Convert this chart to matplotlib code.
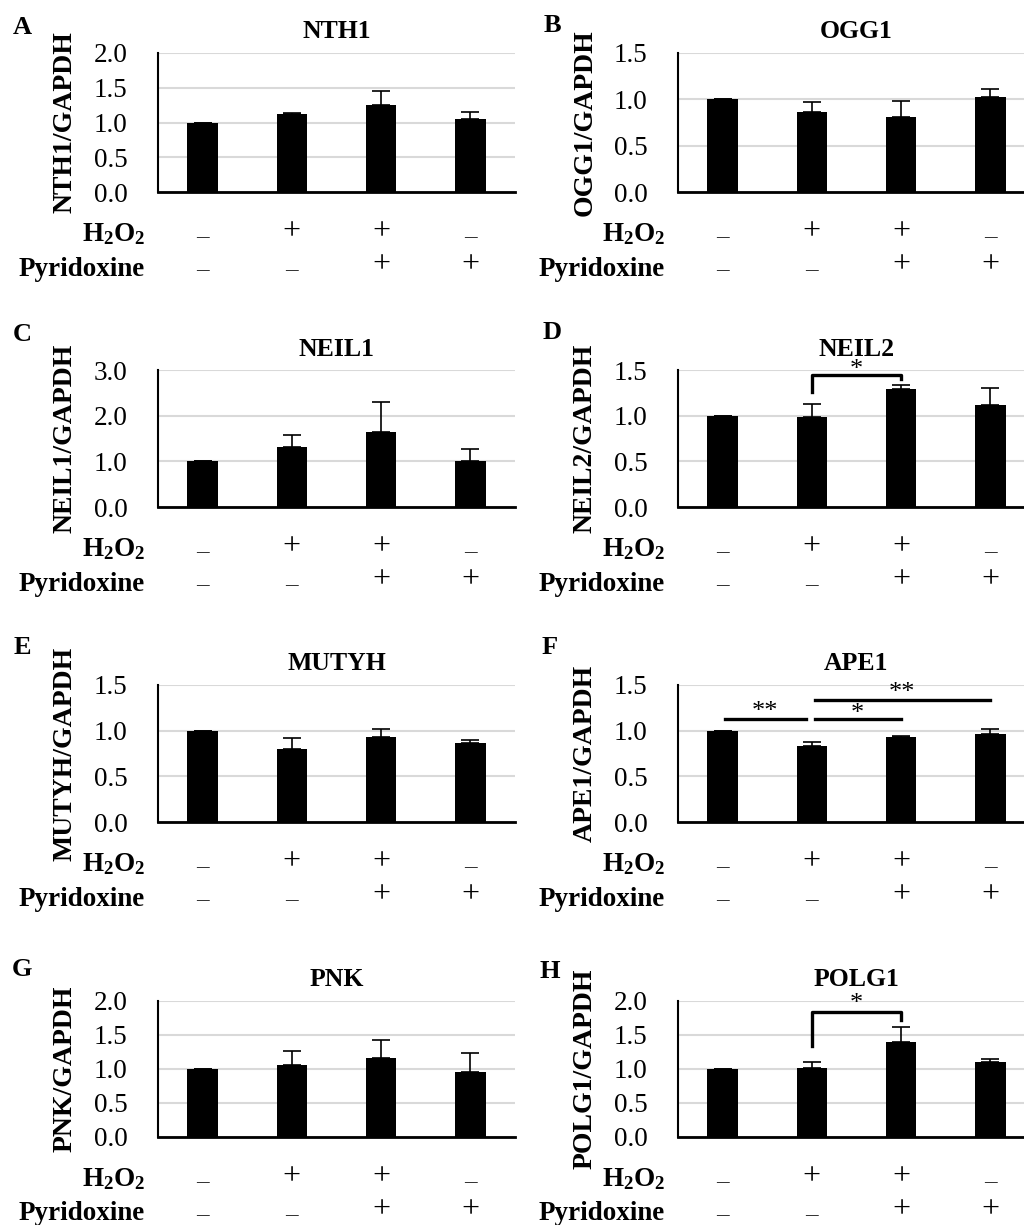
import matplotlib
matplotlib.use('Agg')
import matplotlib.pyplot as plt

plt.rcParams['font.family'] = ['Liberation Serif', 'DejaVu Serif']
plt.rcParams['mathtext.fontset'] = 'custom'
plt.rcParams['mathtext.rm'] = 'Liberation Serif'
plt.rcParams['mathtext.bf'] = 'Liberation Serif:bold'

# conditions (4 bars per panel)
h2o2 = ['\u2013', '+', '+', '\u2013']
pyridoxine = ['\u2013', '\u2013', '+', '+']

genes = ['NTH1', 'OGG1', 'NEIL1', 'NEIL2', 'MUTYH', 'APE1', 'PNK', 'POLG1']
letters = ['A', 'B', 'C', 'D', 'E', 'F', 'G', 'H']

# relative expression (gene/GAPDH) and upper error
nth1 = [1.00, 1.12, 1.25, 1.05]
nth1_err = [0.0, 0.02, 0.20, 0.10]
ogg1 = [1.00, 0.86, 0.81, 1.03]
ogg1_err = [0.0, 0.11, 0.17, 0.08]
neil1 = [1.00, 1.32, 1.65, 1.00]
neil1_err = [0.0, 0.25, 0.65, 0.27]
neil2 = [1.00, 0.985, 1.29, 1.12]
neil2_err = [0.0, 0.14, 0.05, 0.18]
mutyh = [1.00, 0.80, 0.93, 0.86]
mutyh_err = [0.0, 0.12, 0.09, 0.04]
ape1 = [1.00, 0.83, 0.93, 0.96]
ape1_err = [0.0, 0.05, 0.015, 0.06]
pnk = [1.00, 1.06, 1.16, 0.96]
pnk_err = [0.0, 0.20, 0.26, 0.28]
polg1 = [1.00, 1.01, 1.39, 1.11]
polg1_err = [0.0, 0.09, 0.23, 0.04]

ymax = [2.0, 1.5, 3.0, 1.5, 1.5, 1.5, 2.0, 2.0]
ystep = [0.5, 0.5, 1.0, 0.5, 0.5, 0.5, 0.5, 0.5]

# significance: (bar i, bar j, line y, left leg y, right leg y, star y, label)
sig_neil2 = [(1, 2, 1.45, 1.26, 1.40, 1.50, '*')]
sig_polg1 = [(1, 2, 1.84, 1.34, 1.72, 1.96, '*')]
# plain lines: (bar i, bar j, line y, star y, label)
sig_ape1 = [(0, 1, 1.125, 1.20, '**'),
            (1, 2, 1.125, 1.18, '*'),
            (1, 3, 1.336, 1.41, '**')]

values = [nth1, ogg1, neil1, neil2, mutyh, ape1, pnk, polg1]
errors = [nth1_err, ogg1_err, neil1_err, neil2_err,
          mutyh_err, ape1_err, pnk_err, polg1_err]

W, H = 1024, 1225
fig = plt.figure(figsize=(W / 100, H / 100), dpi=100)

col_left = [158, 678]
row_top = [53, 370, 685, 1001]
row_bot = [192, 507, 822, 1137]
letter_pos = [(22, 27), (552, 25), (22, 335), (552, 333),
              (22, 648), (550, 648), (22, 970), (550, 972)]

x = list(range(4))
for k, gene in enumerate(genes):
    r, c = divmod(k, 2)
    ax = fig.add_axes([col_left[c] / W, 1 - row_bot[r] / H,
                       357 / W, (row_bot[r] - row_top[r]) / H])
    ax.set_axisbelow(True)
    ax.bar(x, values[k], width=0.34, color='black', zorder=2)
    ax.errorbar(x, values[k], yerr=[[0] * 4, errors[k]], fmt='none',
                ecolor='black', elinewidth=1.2, capsize=6.5, capthick=1.2,
                zorder=3)
    ax.set_xlim(-0.5, 3.5)
    ax.set_ylim(0, ymax[k])
    n = int(round(ymax[k] / ystep[k]))
    ticks = [i * ystep[k] for i in range(n + 1)]
    ax.set_yticks(ticks)
    ax.set_yticklabels(['%.1f' % t for t in ticks])
    ax.set_xticks([])
    ax.tick_params(axis='y', length=0, pad=22, labelsize=19.5)
    ax.yaxis.grid(True, color='#d9d9d9', lw=1.5)
    for s in ['top', 'right']:
        ax.spines[s].set_visible(False)
    ax.spines['left'].set_linewidth(1.5)
    ax.spines['bottom'].set_linewidth(2)

    ax.set_ylabel(gene + '/GAPDH', fontsize=20, fontweight='bold')
    ax.yaxis.label.set_va('center')
    ax.yaxis.set_label_coords(-0.26, 0.5)

    ax.annotate(gene, xy=(0.5, 1), xycoords='axes fraction',
                xytext=(0, 21), textcoords='offset pixels',
                ha='center', va='center', fontsize=18.5, fontweight='bold')

    # treatment rows
    ax.annotate(r'$\mathbf{H_2O_2}$', xy=(0, 0), xycoords='axes fraction',
                xytext=(-13, -42), textcoords='offset pixels',
                ha='right', va='center', fontsize=19.5)
    ax.annotate('Pyridoxine', xy=(0, 0), xycoords='axes fraction',
                xytext=(-13, -77), textcoords='offset pixels',
                ha='right', va='center', fontsize=19.5, fontweight='bold')
    for i in x:
        for lab, dy in ((h2o2[i], -40), (pyridoxine[i], -73)):
            if lab == '+':
                ax.annotate(lab, xy=(i, 0), xycoords=('data', 'axes fraction'),
                            xytext=(0, dy), textcoords='offset pixels',
                            ha='center', va='center', fontsize=23)
            else:
                ax.annotate(lab, xy=(i, 0), xycoords=('data', 'axes fraction'),
                            xytext=(0, dy - 4), textcoords='offset pixels',
                            ha='center', va='center', fontsize=18,
                            color='#333333')

    fig.text(letter_pos[k][0] / W, 1 - letter_pos[k][1] / H, letters[k],
             fontsize=19, fontweight='bold', ha='center', va='center')

    brackets = {'NEIL2': sig_neil2, 'POLG1': sig_polg1}.get(gene, [])
    for i, j, yl, y0, y1, ys, lab in brackets:
        ax.plot([i, i, j, j], [y0, yl, yl, y1], color='black', lw=2.4,
                clip_on=False, zorder=4)
        ax.text((i + j) / 2, ys, lab, ha='center', va='center',
                fontsize=19, clip_on=False)
    if gene == 'APE1':
        for i, j, yl, ys, lab in sig_ape1:
            x0 = i + 0.03
            x1 = j - (0.07 if i == 0 else 0.0)
            ax.plot([x0, x1], [yl, yl], color='black', lw=2.4,
                    clip_on=False, zorder=4)
            ax.text((x0 + x1) / 2, ys, lab, ha='center', va='center',
                    fontsize=19, clip_on=False)

fig.savefig('out.png', dpi=100)
